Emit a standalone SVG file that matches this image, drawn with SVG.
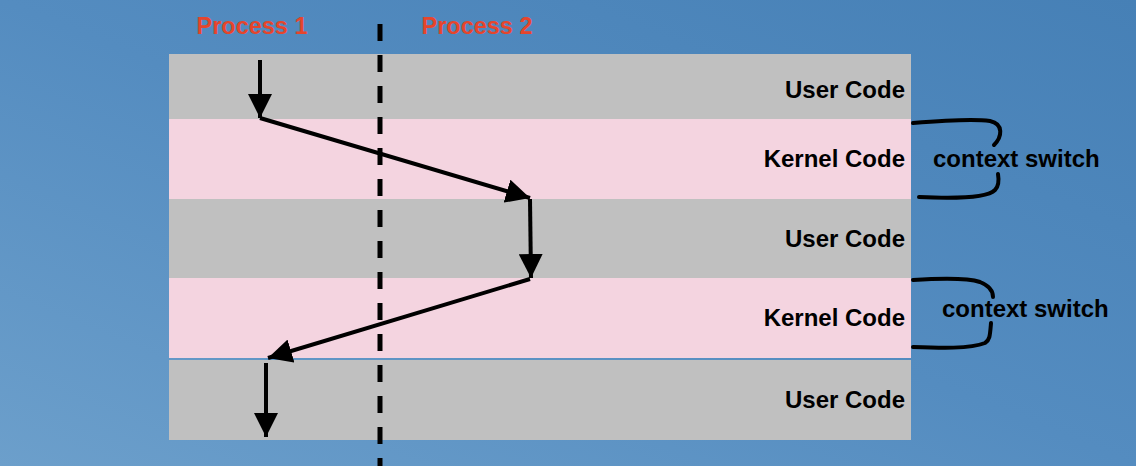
<svg xmlns="http://www.w3.org/2000/svg" width="1136" height="466" viewBox="0 0 1136 466">
  <defs>
    <linearGradient id="bg" x1="1" y1="0" x2="0" y2="1">
      <stop offset="0" stop-color="#4680b6"/>
      <stop offset="0.5" stop-color="#548cc0"/>
      <stop offset="1" stop-color="#6c9fcb"/>
    </linearGradient>
    <marker id="head" viewBox="0 0 24 24" refX="24" refY="12" markerWidth="24" markerHeight="24" markerUnits="userSpaceOnUse" orient="auto">
      <path d="M0,0 L24,12 L0,24 Z" fill="#000"/>
    </marker>
    <style>
      .user { fill: #c0c0c0; }
      .kern { fill: #f4d4e0; }
      .lbl { font-family: "Liberation Sans", Arial, sans-serif; font-weight: bold; font-size: 24px; fill: #000; }
      .proc { font-family: "Liberation Sans", Arial, sans-serif; font-weight: bold; font-size: 23.5px; fill: #e6452c; }
      .flow { stroke: #000; stroke-width: 4; fill: none; marker-end: url(#head); }
      .brace { stroke: #000; stroke-width: 4; fill: none; stroke-linecap: round; }
    </style>
  </defs>
  <rect width="1136" height="466" fill="url(#bg)"/>

  <g id="band-user-1"><rect class="user" x="169" y="54" width="742" height="65"/><text class="lbl" x="905" y="98" text-anchor="end">User Code</text></g>
  <g id="band-kernel-1"><rect class="kern" x="169" y="119" width="742" height="80"/><text class="lbl" x="905" y="167" text-anchor="end">Kernel Code</text></g>
  <g id="band-user-2"><rect class="user" x="169" y="199" width="742" height="79"/><text class="lbl" x="905" y="247" text-anchor="end">User Code</text></g>
  <g id="band-kernel-2"><rect class="kern" x="169" y="278" width="742" height="80"/><text class="lbl" x="905" y="326" text-anchor="end">Kernel Code</text></g>
  <g id="band-user-3"><rect class="user" x="169" y="360" width="742" height="80"/><text class="lbl" x="905" y="408" text-anchor="end">User Code</text></g>

  <g id="process-1"><text class="proc" x="252" y="34" text-anchor="middle">Process 1</text></g>
  <g id="process-2"><text class="proc" x="477" y="34" text-anchor="middle">Process 2</text></g>

  <g id="divider"><line x1="380" y1="24" x2="380" y2="466" stroke="#000" stroke-width="5" stroke-dasharray="17 14"/></g>

  <g id="context-switch-1">
    <path class="brace" d="M913,123 C950,120 975,119 990,121 C1004,124 1002,137 994,145"/>
    <path class="brace" d="M998,174 C999,180 999,186 995,190 C988,197 960,199 919,197"/>
    <text class="lbl" x="933" y="167">context switch</text>
  </g>
  <g id="context-switch-2">
    <path class="brace" d="M913,280 C945,278 968,278 980,282 C990,286 993,292 993,297"/>
    <path class="brace" d="M991,323 C990,335 990,340 985,343 C970,349 940,348 913,347"/>
    <text class="lbl" x="942" y="317">context switch</text>
  </g>

  <g id="connectors">
    <path class="flow" d="M260,60 L260,118"/>
    <path class="flow" d="M260,118 L530,198"/>
    <path class="flow" d="M530,199 L531,278"/>
    <path class="flow" d="M530,279 L268,358"/>
    <path class="flow" d="M266,363 L266,437"/>
  </g>
</svg>
